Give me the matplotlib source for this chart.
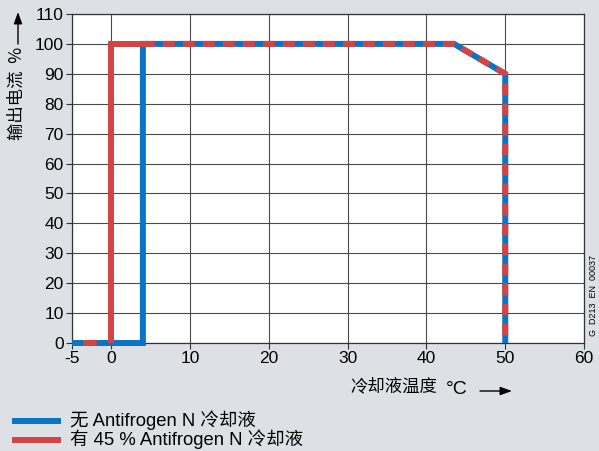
import matplotlib
matplotlib.use("Agg")
import matplotlib.pyplot as plt
from matplotlib.patches import FancyArrowPatch
from matplotlib.lines import Line2D

plt.rcParams['font.family'] = ['Liberation Sans', 'Noto Sans CJK SC', 'DejaVu Sans']
plt.rcParams['axes.unicode_minus'] = False

# Output current derating vs. coolant temperature
x_ticks = [-5, 0, 10, 20, 30, 40, 50, 60]
y_ticks = [0, 10, 20, 30, 40, 50, 60, 70, 80, 90, 100, 110]

# Without Antifrogen N
plain_temp = [-5, 4, 4, 43.5, 50, 50]
plain_current = [0, 0, 100, 100, 90, 0]

# With 45 % Antifrogen N
mix_temp = [-5, 0, 0, 43.5, 50, 50]
mix_current = [0, 0, 100, 100, 90, 0]

label_plain = "无 Antifrogen N 冷却液"
label_mix = "有 45 % Antifrogen N 冷却液"

blue = "#0a74c6"
red = "#d44444"
bg = "#dde1e5"
cjk = ['Noto Sans CJK SC', 'Liberation Sans']

fig = plt.figure(figsize=(5.99, 4.51), dpi=100, facecolor=bg)
ax = fig.add_axes([72 / 599, 1 - 343 / 451, 512 / 599, 329 / 451])
ax.set_facecolor("white")

ax.set_xlim(-5, 60)
ax.set_ylim(0, 110)
ax.set_xticks(x_ticks)
ax.set_yticks(y_ticks)
ax.tick_params(labelsize=12.5, length=4, width=0.8, color="#333333", pad=2)
ax.grid(True, color="#4a4a4a", lw=0.8)
ax.set_axisbelow(True)
for s in ax.spines.values():
    s.set_color("#333333")
    s.set_linewidth(0.9)

lw = 4.3
ax.plot(plain_temp, plain_current, color=blue, lw=lw, solid_joinstyle="miter",
        solid_capstyle="butt", zorder=3, clip_on=False)

# Red curve: solid where it runs alone, dashed where it overlaps the blue one
split = plain_temp[1]
solid_x = [mix_temp[1], mix_temp[2], split]
solid_y = [mix_current[1], mix_current[2], mix_current[2]]
ax.plot(solid_x, solid_y, color=red, lw=lw, solid_joinstyle="miter",
        solid_capstyle="butt", zorder=4, clip_on=False)
shared_x = [split] + mix_temp[3:]
shared_y = [mix_current[2]] + mix_current[3:]
ax.plot(shared_x, shared_y, color=red, lw=lw, linestyle=(0, (2.0, 1.35)),
        dash_capstyle="butt", dash_joinstyle="miter", zorder=4, clip_on=False)
ax.plot(mix_temp[:2], mix_current[:2], color=red, lw=lw,
        linestyle=(0, (0.001, 1.84, 2.3, 20)),
        dash_capstyle="butt", zorder=4, clip_on=False)

# Axis titles with arrows
fig.text(16.5 / 599, 1 - 93 / 451, "输出电流  %", rotation=90, ha="center", va="center",
         fontsize=12.5, family=cjk)
fig.add_artist(FancyArrowPatch(
    (18 / 599, 1 - 44 / 451), (18 / 599, 1 - 12 / 451), transform=fig.transFigure,
    arrowstyle="-|>,head_length=7,head_width=2.5", color="black", lw=1.0,
    shrinkA=0, shrinkB=0))

fig.text(350 / 599, 1 - 386 / 451, "冷却液温度", ha="left", va="center",
         fontsize=12.5, family=cjk)
fig.text(446 / 599, 1 - 389 / 451, "°C", ha="left", va="center", fontsize=14)
fig.add_artist(FancyArrowPatch(
    (480 / 599, 1 - 391 / 451), (512 / 599, 1 - 391 / 451), transform=fig.transFigure,
    arrowstyle="-|>,head_length=7,head_width=2.5", color="black", lw=1.0,
    shrinkA=0, shrinkB=0))

fig.text(594 / 599, 1 - 295 / 451, "G  D213  EN  00037", rotation=90, ha="center",
         va="center", fontsize=6.5)

# Legend
fig.add_artist(Line2D([15 / 599, 58 / 599], [1 - 421 / 451] * 2,
                      color=blue, lw=lw, transform=fig.transFigure))
fig.add_artist(Line2D([15 / 599, 58 / 599], [1 - 440 / 451] * 2,
                      color=red, lw=lw, transform=fig.transFigure))
fig.text(70 / 599, 1 - 420 / 451, label_plain, ha="left", va="center", fontsize=13.3)
fig.text(70 / 599, 1 - 439 / 451, label_mix, ha="left", va="center", fontsize=13.3)

fig.savefig("out.png", dpi=100, facecolor=bg)
